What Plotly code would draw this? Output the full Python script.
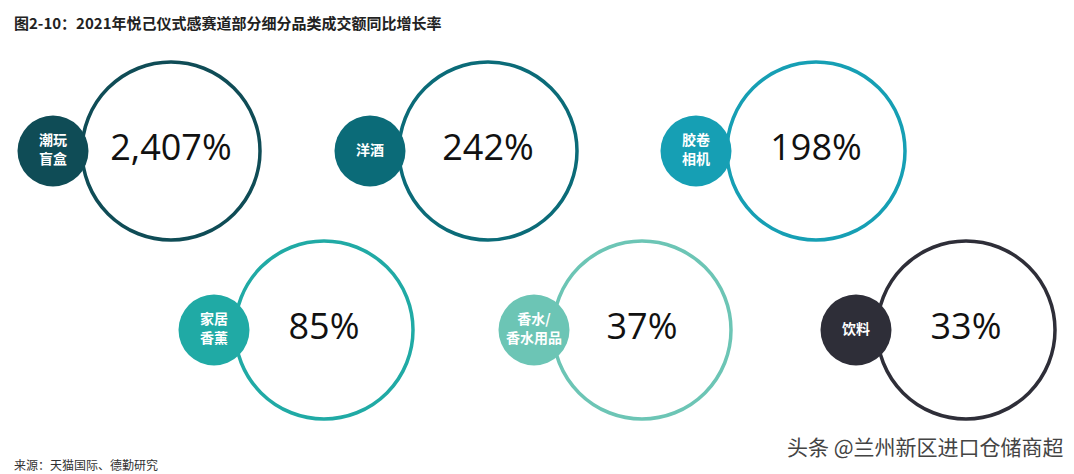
import plotly.graph_objects as go

categories = ["<b>潮玩<br>盲盒</b>", "<b>洋酒</b>", "<b>胶卷<br>相机</b>", "<b>家居<br>香薰</b>", "<b>香水/<br>香水用品</b>", "<b>饮料</b>"]
values = ["2,407%", "242%", "198%", "85%", "37%", "33%"]
colors = ["#0f4c56", "#0b6b78", "#169fb4", "#20aaa5", "#6cc5b5", "#2e2e38"]
cx = [163, 480, 808, 316, 634, 958]
cy = [143, 143, 143, 322, 322, 322]
sx = [45, 362, 688, 206, 526, 848]

fig = go.Figure()
fig.add_trace(go.Scatter(x=cx, y=cy, mode="markers+text", text=values,
    textfont=dict(size=36, color="#111", family="Open Sans"),
    marker=dict(size=178, color="white", line=dict(width=3.5, color=colors)),
    hoverinfo="skip"))
fig.add_trace(go.Scatter(x=sx, y=cy, mode="markers+text", text=categories,
    textfont=dict(size=14, color="white", family="Noto Sans CJK SC"),
    marker=dict(size=71, color=colors, line=dict(width=0)), hoverinfo="skip"))

fig.update_layout(width=1074, height=474, margin=dict(l=0, r=0, t=0, b=0),
    plot_bgcolor="white", paper_bgcolor="white", showlegend=False,
    xaxis=dict(range=[0, 1074], visible=False, fixedrange=True),
    yaxis=dict(range=[474, 0], visible=False, fixedrange=True),
    annotations=[
        dict(x=4, y=14, xref="x", yref="y", text="<b>图2-10：2021年悦己仪式感赛道部分细分品类成交额同比增长率</b>",
             showarrow=False, xanchor="left", font=dict(size=15, color="#222", family="Noto Sans CJK SC")),
        dict(x=4, y=456, xref="x", yref="y", text="来源：天猫国际、德勤研究",
             showarrow=False, xanchor="left", font=dict(size=12, color="#333", family="Noto Sans CJK SC")),
        dict(x=1058, y=438, xref="x", yref="y", text="头条 @兰州新区进口仓储商超",
             showarrow=False, xanchor="right", font=dict(size=21, color="#444", family="Noto Sans CJK SC")),
    ])
fig.write_html("out.html")
